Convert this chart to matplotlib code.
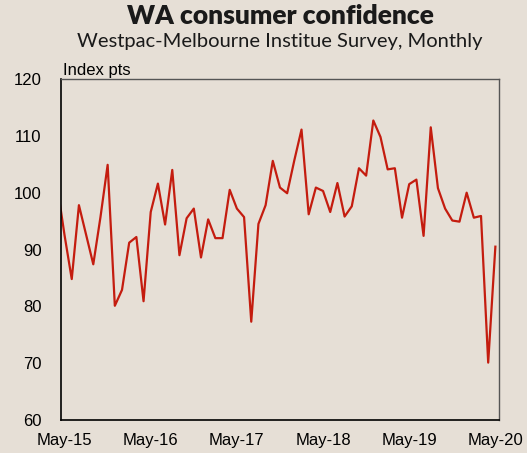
import numpy as np
import matplotlib
matplotlib.use('Agg')
import matplotlib.pyplot as plt

# month index 0 = May-15; first value (Apr-15) sits just off the left edge
months = np.arange(-1, 61)
confidence = [101.0,
              92.5, 84.8, 97.8, 92.6, 87.4, 95.7, 104.9, 80.1, 82.9, 91.2, 92.2, 80.9,
              96.6, 101.6, 94.4, 104.0, 89.0, 95.5, 97.2, 88.6, 95.3, 92.0, 92.0, 100.5,
              97.2, 95.7, 77.3, 94.5, 97.8, 105.6, 100.9, 99.9, 105.7, 111.1, 96.2, 100.9,
              100.3, 96.6, 101.7, 95.8, 97.6, 104.3, 103.0, 112.7, 109.8, 104.1, 104.3, 95.6,
              101.5, 102.3, 92.4, 111.5, 100.8, 97.2, 95.1, 94.9, 100.0, 95.6, 95.9, 70.1,
              90.5]
tick_pos = [0, 12, 24, 36, 48, 60]
tick_labels = ['May-15', 'May-16', 'May-17', 'May-18', 'May-19', 'May-20']

bg = '#e6dfd6'
plt.rcParams['font.family'] = ['Liberation Sans', 'DejaVu Sans']

fig = plt.figure(figsize=(5.27, 4.53), dpi=100, facecolor=bg)
ax = fig.add_axes([0.1157, 0.0728, 0.8311, 0.7528])
ax.set_facecolor(bg)

ax.plot(months, confidence, color='#c41c0f', lw=1.6)

ax.set_xlim(-0.5, 60.5)
ax.set_ylim(60, 120)
ax.set_yticks(range(60, 121, 10))
ax.set_xticks(tick_pos)
ax.set_xticklabels(tick_labels)
ax.tick_params(length=0, labelsize=12, colors='black')
ax.tick_params(axis='y', pad=14)
ax.tick_params(axis='x', pad=9)

for side in ['left', 'bottom']:
    ax.spines[side].set_color('black')
    ax.spines[side].set_linewidth(1.2)
for side in ['top', 'right']:
    ax.spines[side].set_color('#555555')
    ax.spines[side].set_linewidth(1.0)

ax.text(0.005, 1.004, 'Index pts', transform=ax.transAxes, fontsize=12,
        va='bottom', ha='left')

mid = (0.1157 + 0.9469) / 2
fig.text(mid, 0.964, 'WA consumer confidence', ha='center', va='center',
         fontsize=19, fontweight='heavy', family=['Lato', 'DejaVu Sans'], color='#1a1a1a')
fig.text(mid, 0.908, 'Westpac-Melbourne Institue Survey, Monthly', ha='center', va='center',
         fontsize=14.5, family=['Lato', 'DejaVu Sans'], color='#1a1a1a')

fig.savefig('out.png', dpi=100, facecolor=bg)
